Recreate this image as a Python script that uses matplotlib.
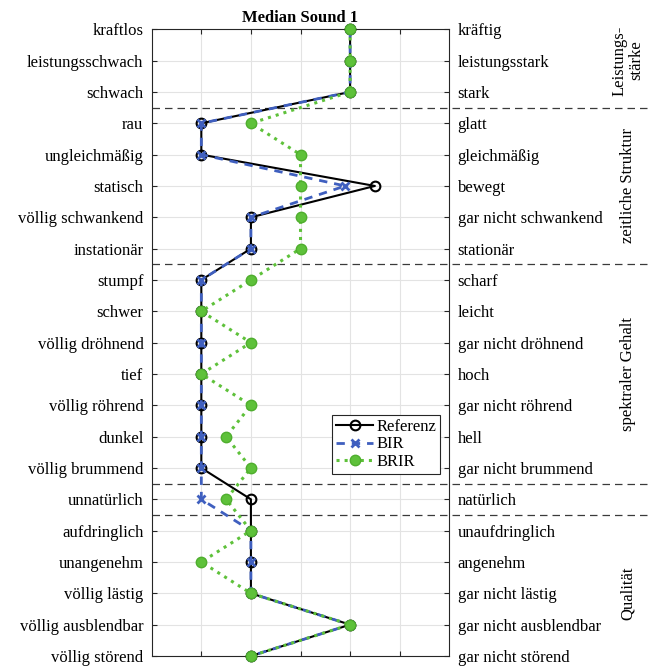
import matplotlib
matplotlib.use("Agg")
import matplotlib.pyplot as plt
import matplotlib.transforms as mtransforms

plt.rcParams['font.family'] = ['Liberation Serif', 'DejaVu Serif']

# Eigenschaftspaare (links / rechts)
links = ["kraftlos", "leistungsschwach", "schwach", "rau", "ungleichmäßig",
         "statisch", "völlig schwankend", "instationär", "stumpf", "schwer",
         "völlig dröhnend", "tief", "völlig röhrend", "dunkel", "völlig brummend",
         "unnatürlich", "aufdringlich", "unangenehm", "völlig lästig",
         "völlig ausblendbar", "völlig störend"]
rechts = ["kräftig", "leistungsstark", "stark", "glatt", "gleichmäßig",
          "bewegt", "gar nicht schwankend", "stationär", "scharf", "leicht",
          "gar nicht dröhnend", "hoch", "gar nicht röhrend", "hell",
          "gar nicht brummend", "natürlich", "unaufdringlich", "angenehm",
          "gar nicht lästig", "gar nicht ausblendbar", "gar nicht störend"]

# Mediane
referenz = [4, 4, 4, 1, 1, 4.5, 2, 2, 1, 1, 1, 1, 1, 1, 1, 2, 2, 2, 2, 4, 2]
bir      = [4, 4, 4, 1, 1, 3.9, 2, 2, 1, 1, 1, 1, 1, 1, 1, 1, 2, 2, 2, 4, 2]
brir     = [4, 4, 4, 2, 3, 3, 3, 3, 2, 1, 2, 1, 2, 1.5, 2, 1.5, 2, 1, 2, 4, 2]

# Gruppen: (Name, Mitte in Zeilen)
gruppen = [("Leistungs-\nstärke", 2), ("zeitliche Struktur", 6),
           ("spektraler Gehalt", 12), ("Qualität", 19)]
trenner = [3.5, 8.5, 15.5, 16.5]

zeilen = list(range(1, len(links) + 1))

fig = plt.figure(figsize=(6.54, 6.70), dpi=100)
ax = fig.add_axes([0.232, 0.0209, 0.455, 0.9354])

ax.plot(referenz, zeilen, color='black', linewidth=1.5, marker='o',
        markersize=7, markerfacecolor='none', markeredgewidth=1.5,
        label='Referenz', clip_on=False, zorder=3)
ax.plot(bir, zeilen, color='#3F5FBF', linewidth=2, linestyle=(0, (3, 2.5)),
        marker='x', markersize=6, markeredgewidth=2,
        label='BIR', clip_on=False, zorder=4)
ax.plot(brir, zeilen, color='#5EC13A', linewidth=2.2, linestyle=':',
        marker='o', markersize=7.5, markerfacecolor='#5EC13A',
        markeredgecolor='#4FAE2E', markeredgewidth=1,
        label='BRIR', clip_on=False, zorder=5)

ax.set_xlim(0, 6)
ax.set_ylim(21, 1)
ax.set_xticks([1, 2, 3, 4, 5])
ax.set_xticklabels([])
ax.set_yticks(zeilen)
ax.set_yticklabels(links, fontsize=12)
ax.tick_params(axis='both', direction='in', length=3.5, color='#262626',
               top=True, right=True, pad=6)
ax.grid(True, color='#e3e3e3', linewidth=0.8)
ax.set_axisbelow(True)
for s in ax.spines.values():
    s.set_color('#262626')
    s.set_linewidth(0.8)

ax2 = ax.twinx()
ax2.set_ylim(21, 1)
ax2.set_yticks(zeilen)
ax2.set_yticklabels(rechts, fontsize=12)
ax2.tick_params(axis='y', direction='in', length=3.5, color='#262626', pad=6)
for s in ax2.spines.values():
    s.set_visible(False)

# gestrichelte Trennlinien bis in den rechten Rand
trans = mtransforms.blended_transform_factory(ax.transAxes, ax.transData)
for y in trenner:
    ax.plot([0, 1.675], [y, y], transform=trans, color='#3a3a3a',
            linewidth=0.9, linestyle=(0, (6, 4)), clip_on=False, zorder=2)

for name, mitte in gruppen:
    ax.text(1.60, mitte, name, transform=trans, rotation=90, fontsize=12,
            ha='center', va='center', linespacing=1.0)

ax.set_title("Median Sound 1", fontsize=12, fontweight='bold', pad=5)

leg = ax.legend(loc='lower left', bbox_to_anchor=(0.606, 0.29), fontsize=12,
                frameon=True, fancybox=False, edgecolor='#262626',
                framealpha=1, borderaxespad=0, handlelength=2.2,
                handletextpad=0.2, borderpad=0.25, labelspacing=0.1)
leg.get_frame().set_linewidth(0.8)
leg.set_zorder(10)

plt.savefig("out.png", dpi=100)
